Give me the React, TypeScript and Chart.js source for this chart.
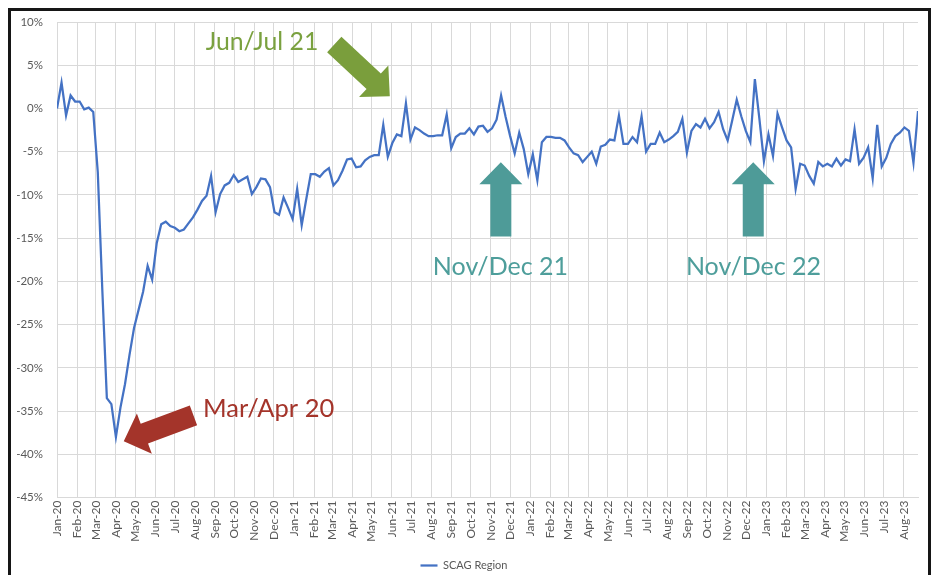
import { useEffect, useRef } from "react";
import { Chart, registerables } from "chart.js";

Chart.register(...registerables);

// ---------- data ----------
const seriesLabel = "SCAG Region";
const seriesStartUTC = Date.UTC(2020, 0, 1); // first weekly observation
const monthLabels = [
  "Jan-20", "Feb-20", "Mar-20", "Apr-20", "May-20", "Jun-20", "Jul-20", "Aug-20", "Sep-20", "Oct-20", "Nov-20", "Dec-20",
  "Jan-21", "Feb-21", "Mar-21", "Apr-21", "May-21", "Jun-21", "Jul-21", "Aug-21", "Sep-21", "Oct-21", "Nov-21", "Dec-21",
  "Jan-22", "Feb-22", "Mar-22", "Apr-22", "May-22", "Jun-22", "Jul-22", "Aug-22", "Sep-22", "Oct-22", "Nov-22", "Dec-22",
  "Jan-23", "Feb-23", "Mar-23", "Apr-23", "May-23", "Jun-23", "Jul-23", "Aug-23",
];
// weekly % change (one value per week)
const weeklyChange = [
  0.0, 3.0, -0.8, 1.5, 0.8, 0.8, -0.1, 0.1, -0.4, -7.4,
  -21.0, -33.5, -34.2, -38.0, -34.6, -31.9, -28.5, -25.4, -23.3, -21.2,
  -18.2, -19.8, -15.6, -13.4, -13.1, -13.6, -13.8, -14.2, -14.0, -13.3,
  -12.6, -11.7, -10.7, -10.1, -7.8, -12.0, -9.9, -8.9, -8.6, -7.7,
  -8.5, -8.2, -7.9, -9.9, -9.1, -8.1, -8.2, -9.1, -12.0, -12.3,
  -10.3, -11.5, -12.8, -9.3, -13.5, -10.5, -7.6, -7.6, -7.9, -7.3,
  -6.9, -8.9, -8.3, -7.2, -5.9, -5.8, -6.8, -6.7, -6.0, -5.6,
  -5.4, -5.4, -1.9, -5.6, -4.0, -3.0, -3.2, 0.6, -3.6, -2.2,
  -2.5, -2.9, -3.2, -3.2, -3.1, -3.1, -0.7, -4.6, -3.3, -2.9,
  -2.9, -2.3, -3.0, -2.1, -2.0, -2.7, -2.3, -1.3, 1.5, -1.0,
  -3.2, -5.2, -2.8, -4.7, -7.6, -5.3, -8.3, -3.9, -3.3, -3.3,
  -3.4, -3.4, -3.7, -4.5, -5.2, -5.4, -6.2, -5.6, -5.0, -6.4,
  -4.4, -4.2, -3.6, -3.7, -0.8, -4.1, -4.1, -3.3, -3.9, -0.9,
  -5.0, -4.1, -4.1, -2.8, -3.9, -3.6, -3.2, -2.7, -1.2, -5.1,
  -2.6, -1.8, -2.2, -1.2, -2.3, -1.6, -0.4, -2.4, -3.7, -1.4,
  1.0, -0.9, -2.6, -3.9, 3.4, -1.2, -6.1, -3.0, -5.5, -0.6,
  -2.2, -3.7, -4.5, -9.3, -6.4, -6.6, -7.8, -8.7, -6.2, -6.7,
  -6.4, -6.7, -5.8, -6.6, -5.9, -6.1, -2.4, -6.4, -5.7, -4.5,
  -8.1, -1.9, -6.7, -5.7, -4.1, -3.2, -2.8, -2.2, -2.6, -6.3,
  -0.3,
];
const yMin = -45;
const yMax = 10;
const yStep = 5;

// ---------- derived ----------
const DAY_MS = 86400000;
const monthStartDays = monthLabels.map((_, i) =>
  Math.round((Date.UTC(2020, i, 1) - seriesStartUTC) / DAY_MS)
);
const points = weeklyChange.map((v, i) => ({ x: i * 7, y: v }));
const lastDay = (weeklyChange.length - 1) * 7;

// ---------- annotations (anchored in data units: days, %) ----------
const arrowNotes = [
  { color: "#7a9e3c", from: [428.3, 7.39], to: [514.1, 1.42] },
  { color: "#a4342a", from: [210.8, -35.5], to: [103.1, -38.5] },
  { color: "#4e9b98", from: [685.6, -14.8], to: [685.6, -6.22] },
  { color: "#4e9b98", from: [1075.5, -14.8], to: [1075.5, -6.22] },
];
const textNotes = [
  { text: "Jun/Jul 21", color: "#7aa13f", at: [229.8, 6.75], size: 24.8 },
  { text: "Mar/Apr 20", color: "#a4342a", at: [225.6, -35.66], size: 25.5 },
  { text: "Nov/Dec 21", color: "#4e9e9b", at: [580.6, -19.3], size: 25 },
  { text: "Nov/Dec 22", color: "#4e9e9b", at: [971.5, -19.3], size: 25 },
];

const tickFont = { family: "Lato, 'Open Sans', sans-serif", size: 11.5 };
const tickColor = "#595959";
const gridColor = "#d9d9d9";

const notesPlugin = {
  id: "notes",
  afterDatasetsDraw(chart: any) {
    const { ctx } = chart;
    const xs = chart.scales.x;
    const ys = chart.scales.y;
    ctx.save();
    for (const a of arrowNotes) {
      const x1 = xs.getPixelForValue(a.from[0]);
      const y1 = ys.getPixelForValue(a.from[1]);
      const x2 = xs.getPixelForValue(a.to[0]);
      const y2 = ys.getPixelForValue(a.to[1]);
      const dx = x2 - x1;
      const dy = y2 - y1;
      const len = Math.hypot(dx, dy);
      const ux = dx / len;
      const uy = dy / len;
      const nx = -uy;
      const ny = ux;
      const shaft = 21;
      const headW = 43;
      const headL = 22;
      const bx = x2 - ux * headL;
      const by = y2 - uy * headL;
      ctx.beginPath();
      ctx.moveTo(x1 + (nx * shaft) / 2, y1 + (ny * shaft) / 2);
      ctx.lineTo(bx + (nx * shaft) / 2, by + (ny * shaft) / 2);
      ctx.lineTo(bx + (nx * headW) / 2, by + (ny * headW) / 2);
      ctx.lineTo(x2, y2);
      ctx.lineTo(bx - (nx * headW) / 2, by - (ny * headW) / 2);
      ctx.lineTo(bx - (nx * shaft) / 2, by - (ny * shaft) / 2);
      ctx.lineTo(x1 - (nx * shaft) / 2, y1 - (ny * shaft) / 2);
      ctx.closePath();
      ctx.fillStyle = a.color;
      ctx.fill();
    }
    for (const t of textNotes) {
      ctx.font = `${t.size}px Lato, 'Open Sans', sans-serif`;
      ctx.fillStyle = t.color;
      ctx.textAlign = "left";
      ctx.textBaseline = "alphabetic";
      ctx.fillText(t.text, xs.getPixelForValue(t.at[0]), ys.getPixelForValue(t.at[1]));
    }
    ctx.restore();
  },
};

export default function App() {
  const canvasRef = useRef<HTMLCanvasElement | null>(null);

  useEffect(() => {
    const canvas = canvasRef.current;
    if (!canvas) return;
    const chart = new Chart(canvas, {
      type: "line",
      data: {
        datasets: [
          {
            label: seriesLabel,
            data: points,
            borderColor: "#4472c4",
            backgroundColor: "#4472c4",
            borderWidth: 2.25,
            pointRadius: 0,
            pointHoverRadius: 0,
            tension: 0,
            fill: false,
          },
        ],
      },
      options: {
        responsive: false,
        animation: false,
        devicePixelRatio: 1,
        layout: { padding: { left: 10, right: 15, top: 22, bottom: 0 } },
        scales: {
          x: {
            type: "linear",
            min: 0,
            max: lastDay,
            afterBuildTicks: (scale: any) => {
              scale.ticks = monthStartDays.map((v) => ({ value: v }));
            },
            afterFit: (scale: any) => {
              scale.height = 52.5;
            },
            grid: { color: gridColor, lineWidth: 1, drawTicks: false },
            border: { color: gridColor },
            ticks: {
              autoSkip: false,
              maxRotation: 90,
              minRotation: 90,
              padding: 3,
              font: { family: "Lato, 'Open Sans', sans-serif", size: 12 },
              color: tickColor,
              callback: (_v: any, i: number) => monthLabels[i],
            },
          },
          y: {
            min: yMin,
            max: yMax,
            afterFit: (scale: any) => {
              scale.width = 47;
            },
            grid: { color: gridColor, lineWidth: 1, drawTicks: false },
            border: { color: gridColor },
            ticks: {
              stepSize: yStep,
              padding: 14,
              font: tickFont,
              color: tickColor,
              callback: (v: any) => `${v}%`,
            },
          },
        },
        plugins: {
          legend: {
            position: "bottom",
            labels: {
              usePointStyle: true,
              pointStyle: "line",
              pointStyleWidth: 17,
              padding: 10,
              font: { family: "Lato, 'Open Sans', sans-serif", size: 11 },
              color: tickColor,
            },
          },
          tooltip: { enabled: false },
        },
      },
      plugins: [notesPlugin],
    });
    return () => chart.destroy();
  }, []);

  return (
    <>
      <canvas
        ref={canvasRef}
        width={933}
        height={581}
        style={{ position: "fixed", left: 0, top: 0, width: 933, height: 581, display: "block" }}
      />
      <div
        style={{
          position: "fixed",
          left: 8,
          top: 8,
          width: 923,
          height: 620,
          boxSizing: "border-box",
          border: "3px solid #161616",
          pointerEvents: "none",
        }}
      />
    </>
  );
}
